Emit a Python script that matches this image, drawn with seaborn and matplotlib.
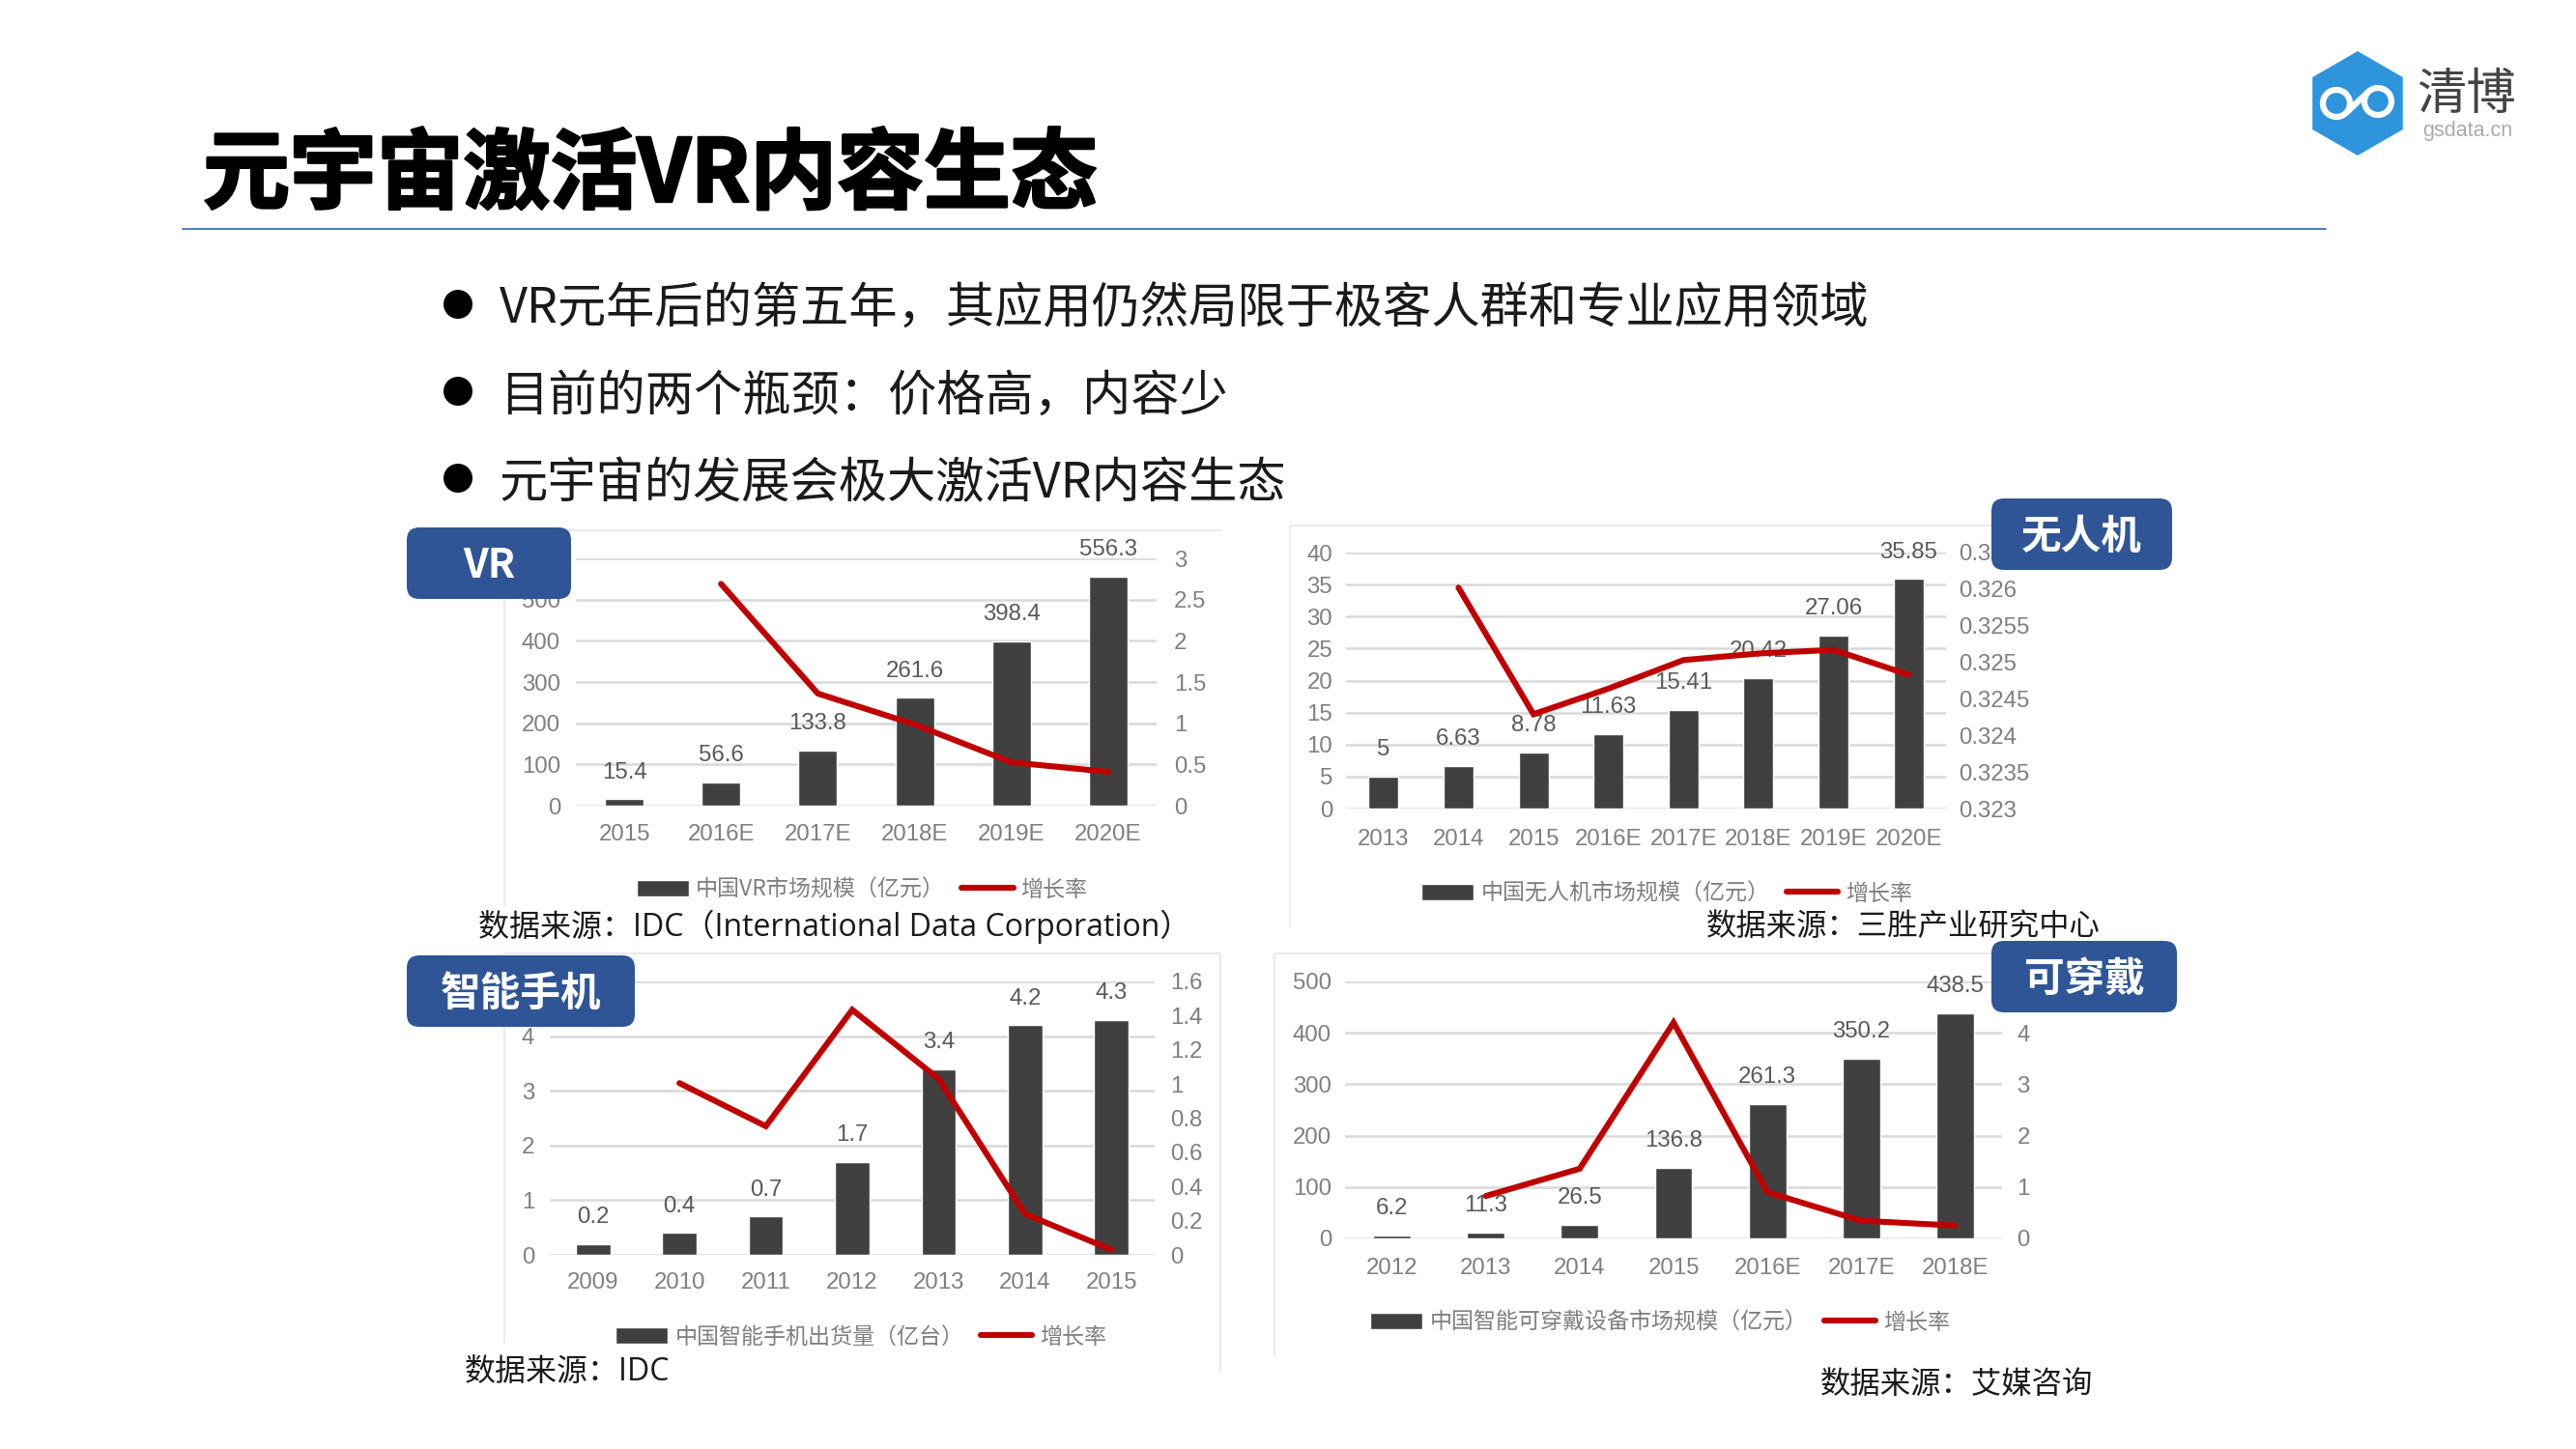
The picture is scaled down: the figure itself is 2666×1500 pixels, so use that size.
import numpy as np
import pandas as pd
import matplotlib
matplotlib.use("Agg")
import matplotlib.pyplot as plt
import matplotlib.patheffects as pe
from matplotlib.patches import FancyBboxPatch, RegularPolygon, Circle
from matplotlib.lines import Line2D
import seaborn as sns

sns.set_theme(style="white")
CJK = ["Noto Sans CJK SC", "DejaVu Sans"]
NUM = ["Liberation Sans", "Noto Sans CJK SC"]
plt.rcParams["font.family"] = CJK
plt.rcParams["axes.unicode_minus"] = False

W, H = 2666, 1500

# ---------- data ----------
title = "元宇宙激活VR内容生态"
bullets = ["VR元年后的第五年，其应用仍然局限于极客人群和专业应用领域",
           "目前的两个瓶颈：价格高，内容少",
           "元宇宙的发展会极大激活VR内容生态"]

vr_years = ["2015", "2016E", "2017E", "2018E", "2019E", "2020E"]
vr_size = [15.4, 56.6, 133.8, 261.6, 398.4, 556.3]
vr_size_text = ["15.4", "56.6", "133.8", "261.6", "398.4", "556.3"]
vr_rate = [np.nan, 2.69, 1.36, 0.985, 0.526, 0.41]
vr_left_ticks = [0, 100, 200, 300, 400, 500, 600]
vr_right_ticks = [0, 0.5, 1, 1.5, 2, 2.5, 3]

uav_years = ["2013", "2014", "2015", "2016E", "2017E", "2018E", "2019E", "2020E"]
uav_size = [5, 6.63, 8.78, 11.63, 15.41, 20.42, 27.06, 35.85]
uav_size_text = ["5", "6.63", "8.78", "11.63", "15.41", "20.42", "27.06", "35.85"]
uav_rate = [np.nan, 0.32602, 0.32429, 0.32464, 0.32503, 0.32512, 0.32517, 0.32483]
uav_left_ticks = [0, 5, 10, 15, 20, 25, 30, 35, 40]
uav_right_ticks = [0.323, 0.3235, 0.324, 0.3245, 0.325, 0.3255, 0.326, 0.3265]

phone_years = ["2009", "2010", "2011", "2012", "2013", "2014", "2015"]
phone_size = [0.2, 0.4, 0.7, 1.7, 3.4, 4.2, 4.3]
phone_size_text = ["0.2", "0.4", "0.7", "1.7", "3.4", "4.2", "4.3"]
phone_rate = [np.nan, 1.005, 0.753, 1.434, 1.03, 0.239, 0.03]
phone_left_ticks = [0, 1, 2, 3, 4, 5]
phone_right_ticks = [0, 0.2, 0.4, 0.6, 0.8, 1, 1.2, 1.4, 1.6]

wear_years = ["2012", "2013", "2014", "2015", "2016E", "2017E", "2018E"]
wear_size = [6.2, 11.3, 26.5, 136.8, 261.3, 350.2, 438.5]
wear_size_text = ["6.2", "11.3", "26.5", "136.8", "261.3", "350.2", "438.5"]
wear_rate = [np.nan, 0.825, 1.356, 4.2, 0.9, 0.344, 0.25]
wear_left_ticks = [0, 100, 200, 300, 400, 500]
wear_right_ticks = [0, 1, 2, 3, 4, 5]

# ---------- style ----------
BAR = "#404040"
RED = "#c00000"
GRID = "#d9d9d9"
TICK = "#7f7f7f"
VALUE = "#595959"
BADGE = "#2f5597"
FRAME = "#e8e8e8"

fig = plt.figure(figsize=(W / 100, H / 100), dpi=100, facecolor="white")


def panel(box, years, size, size_text, rate, lticks, rticks, legend_labels,
          legend_center, lpad, rpad, xpad):
    l, t, r, b = box
    ax = fig.add_axes([l / W, 1 - b / H, (r - l) / W, (b - t) / H])
    frame = pd.DataFrame({"year": years, "size": size, "rate": rate, "pos": np.arange(len(years))})
    sns.barplot(data=frame, x="year", y="size", ax=ax, color=BAR, saturation=1, width=0.4, zorder=3)
    ax.set_xlim(-0.5, len(years) - 0.5)
    ax.set_ylim(lticks[0], lticks[-1])
    ax.set_yticks(lticks)
    ax.set_yticklabels([f"{v:g}" for v in lticks], family=NUM, fontsize=17.3, color=TICK)
    ax.set_xticks(range(len(years)))
    ax.set_xticklabels(years, family=NUM, fontsize=17.3, color=TICK)
    ax.tick_params(axis="y", length=0, pad=lpad)
    ax.tick_params(axis="x", length=0, pad=xpad)
    ax.set_xlabel("")
    ax.set_ylabel("")
    ax.grid(axis="y", color=GRID, lw=1.8, zorder=0)
    ax.grid(axis="x", visible=False)
    ax.set_axisbelow(True)
    for s in ax.spines.values():
        s.set_visible(False)
    ax.patch.set_alpha(0)
    for i, txt in enumerate(size_text):
        ax.annotate(txt, (i, size[i]), xytext=(0, 20), textcoords="offset points",
                    ha="center", va="center", family=NUM, fontsize=17.3, color=VALUE)

    ax2 = ax.twinx()
    sns.lineplot(data=frame.dropna(), x="pos", y="rate", ax=ax2, color=RED, lw=4.4,
                 legend=False, errorbar=None, zorder=5)
    ax2.lines[0].set_solid_joinstyle("miter")
    ax2.set_ylim(rticks[0], rticks[-1])
    ax2.set_yticks(rticks)
    ax2.set_yticklabels([f"{v:g}" for v in rticks], family=NUM, fontsize=17.3, color=TICK)
    ax2.tick_params(axis="y", length=0, pad=rpad)
    ax2.set_ylabel("")
    ax2.grid(False)
    for s in ax2.spines.values():
        s.set_visible(False)
    ax2.patch.set_alpha(0)

    ax.legend(handles=[ax.containers[0], ax2.lines[0]], labels=legend_labels, ncol=2,
              frameon=False, loc="center",
              bbox_to_anchor=(legend_center[0] / W, 1 - legend_center[1] / H),
              bbox_transform=fig.transFigure, prop={"family": CJK, "size": 16.6},
              labelcolor=TICK, handlelength=2.33, handleheight=0.7, handletextpad=0.32,
              columnspacing=0.75, borderpad=0, borderaxespad=0)
    return ax, ax2


panel((596, 578, 1197, 834), vr_years, vr_size, vr_size_text, vr_rate, vr_left_ticks, vr_right_ticks,
      ["中国VR市场规模（亿元）", "增长率"], (892, 921), 11.5, 13, 14)
panel((1393, 572, 2014, 837), uav_years, uav_size, uav_size_text, uav_rate, uav_left_ticks, uav_right_ticks,
      ["中国无人机市场规模（亿元）", "增长率"], (1725, 925), 10, 9.5, 15)
panel((569, 1016, 1195, 1299), phone_years, phone_size, phone_size_text, phone_rate, phone_left_ticks, phone_right_ticks,
      ["中国智能手机出货量（亿台）", "增长率"], (891, 1384), 11.5, 11.5, 13)
panel((1392, 1016, 2072, 1282), wear_years, wear_size, wear_size_text, wear_rate, wear_left_ticks, wear_right_ticks,
      ["中国智能可穿戴设备市场规模（亿元）", "增长率"], (1718, 1369), 10, 11, 14.5)

# ---------- overlay in pixel units ----------
ov = fig.add_axes([0, 0, 1, 1], zorder=10)
ov.set_xlim(0, W)
ov.set_ylim(H, 0)
ov.axis("off")

# picture frames of the pasted charts
frames = [([522, 522, 1264], [937, 549, 549]),
          ([1335, 1335, 2070], [960, 544, 544]),
          ([522, 522, 1263, 1263], [1390, 987, 987, 1419]),
          ([1319, 1319, 2070], [1403, 987, 987])]
for xs, ys in frames:
    ov.add_line(Line2D(xs, ys, color=FRAME, lw=1.3, zorder=1))

# headline
ov.text(210, 182, title, fontsize=64.7, fontweight="bold", color="#000000", ha="left", va="center", family=CJK,
        path_effects=[pe.withStroke(linewidth=2.0, foreground="#000000")])
ov.add_line(Line2D([189, 2407], [237, 237], color="#4a7cbc", lw=1.4, zorder=1))

# bullets
for y, yc, txt in zip([321, 411, 501], [315, 405, 495], bullets):
    ov.add_patch(Circle((474, yc), 15, color="#000000", lw=0))
    ov.text(517, y, txt, fontsize=36.2, color="#1a1a1a", ha="left", va="center", family=CJK)

# sources
SRC = ["Open Sans", "Noto Sans CJK SC"]
sources = [(495, 959, 23, "数据来源：IDC（International Data Corporation）"),
           (1766, 960, 22.6, "数据来源：三胜产业研究中心"),
           (481, 1420, 23, "数据来源：IDC"),
           (1884, 1434, 22.6, "数据来源：艾媒咨询")]
for x, y, fs, txt in sources:
    ov.text(x, y, txt, fontsize=fs, color="#1a1a1a", ha="left", va="center", family=SRC, zorder=3)

# badges
badges = [(421, 546, 591, 620, "VR"), (2061, 516, 2248, 590, "无人机"),
          (421, 989, 657, 1063, "智能手机"), (2061, 974, 2253, 1048, "可穿戴")]
for x0, y0, x1, y1, txt in badges:
    ov.add_patch(FancyBboxPatch((x0 + 13, y0 + 13), x1 - x0 - 26, y1 - y0 - 26,
                                boxstyle="round,pad=13,rounding_size=13", fc=BADGE, ec="none", zorder=5))
    ov.text((x0 + x1) / 2, (y0 + y1) / 2 + 3, txt, fontsize=30, fontweight="bold", color="white",
            ha="center", va="center", family=CJK, zorder=6)

# logo
ov.add_patch(RegularPolygon((2440, 107), 6, radius=54, fc="#2e94dc", ec="none", zorder=5))
for cx, cy in [(2418, 107), (2461, 105)]:
    ov.add_patch(Circle((cx, cy), 14, fc="none", ec="white", lw=4.5, zorder=6))
ov.add_line(Line2D([2428, 2451], [117, 95], color="white", lw=4.5, zorder=6))
ov.text(2553, 98, "清博", fontsize=37, color="#444444", ha="center", va="center", family=CJK, zorder=6)
ov.text(2554, 135, "gsdata.cn", fontsize=15.5, color="#aaaaaa", ha="center", va="center", family=NUM, zorder=6)

fig.savefig("out.png", dpi=100, facecolor="white")
